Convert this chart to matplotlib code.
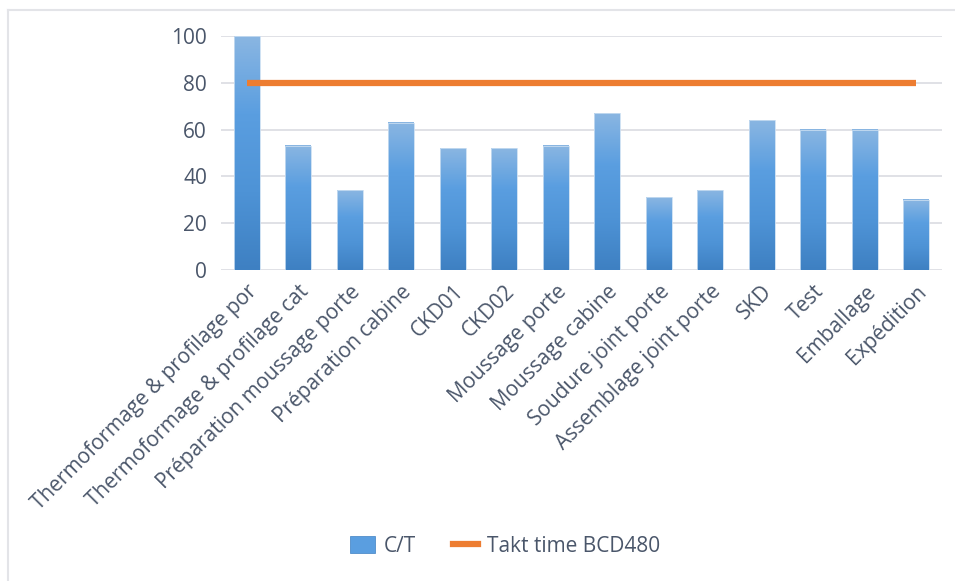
import numpy as np
import matplotlib.pyplot as plt
from matplotlib.colors import LinearSegmentedColormap
from matplotlib.patches import Patch
from matplotlib.lines import Line2D

plt.rcParams['font.family'] = ['Open Sans', 'DejaVu Sans']

postes = ['Thermoformage & profilage por', 'Thermoformage & profilage cat',
          'Préparation moussage porte', 'Préparation cabine', 'CKD01', 'CKD02',
          'Moussage porte', 'Moussage cabine', 'Soudure joint porte',
          'Assemblage joint porte', 'SKD', 'Test', 'Emballage', 'Expédition']
cycle_time = [100, 53, 34, 63, 52, 52, 53, 67, 31, 34, 64, 60, 60, 30]
takt_time = [80] * len(postes)
y_ticks = [0, 20, 40, 60, 80, 100]

text_color = '#4A566A'
grad = LinearSegmentedColormap.from_list(
    'bar_grad', ['#3E80C2', '#4E93D6', '#5A9EE0', '#8AB6E2'])


def draw_chart():
    fig = plt.figure(figsize=(9.55, 5.81), dpi=100)
    ax = fig.add_axes([221 / 955, 311 / 581, 721 / 955, 234 / 581])

    x = np.arange(len(postes))
    width = 0.5
    bars = ax.bar(x, cycle_time, width=width, color='none', zorder=2)

    # vertical gradient inside every bar
    g = np.linspace(0, 1, 256).reshape(-1, 1)
    for b in bars:
        x0, h = b.get_x(), b.get_height()
        ax.imshow(g, cmap=grad, origin='lower', aspect='auto',
                  extent=[x0, x0 + b.get_width(), 0, h], zorder=2)
        ax.add_patch(plt.Rectangle((x0, 0), b.get_width(), h, fill=False,
                                   edgecolor='#C8DDF1', linewidth=0.6, zorder=2))

    ax.plot(x, takt_time, color='#ED7D31', linewidth=4.5,
            solid_capstyle='butt', zorder=3)

    ax.set_xlim(-0.5, len(postes) - 0.5)
    ax.set_ylim(0, 100)
    ax.set_yticks(y_ticks)
    ax.set_yticklabels([str(v) for v in y_ticks], fontsize=15, color=text_color)
    ax.yaxis.grid(True, color='#DADCE2', linewidth=1.2, zorder=0)
    ax.set_axisbelow(True)
    for s in ax.spines.values():
        s.set_visible(False)
    ax.tick_params(axis='both', length=0)
    ax.tick_params(axis='y', pad=10)

    ax.set_xticks(x)
    ax.set_xticklabels(postes, rotation=45, ha='right', va='top',
                       rotation_mode='anchor', fontsize=15, color=text_color)
    ax.tick_params(axis='x', pad=8)

    handles = [Patch(facecolor='#5A9EE0', edgecolor='#3E80C2', linewidth=0.5),
               Line2D([0], [0], color='#ED7D31', linewidth=4.5)]
    fig.legend(handles, ['C/T', 'Takt time BCD480'], loc='center',
               bbox_to_anchor=(505 / 955, 1 - 546 / 581), ncol=2, frameon=False,
               fontsize=15, labelcolor=text_color, handlelength=1.2,
               handleheight=0.9, columnspacing=1.8, handletextpad=0.4)

    # thin frame on top and left edges
    fig.add_artist(Line2D([8 / 955, 1], [1 - 10 / 581, 1 - 10 / 581],
                          transform=fig.transFigure, color='#E3E4E8', linewidth=1.5))
    fig.add_artist(Line2D([8 / 955, 8 / 955], [0, 1 - 10 / 581],
                          transform=fig.transFigure, color='#E3E4E8', linewidth=1.5))

    fig.savefig('out.png', dpi=100, facecolor='white')


if __name__ == '__main__':
    draw_chart()
